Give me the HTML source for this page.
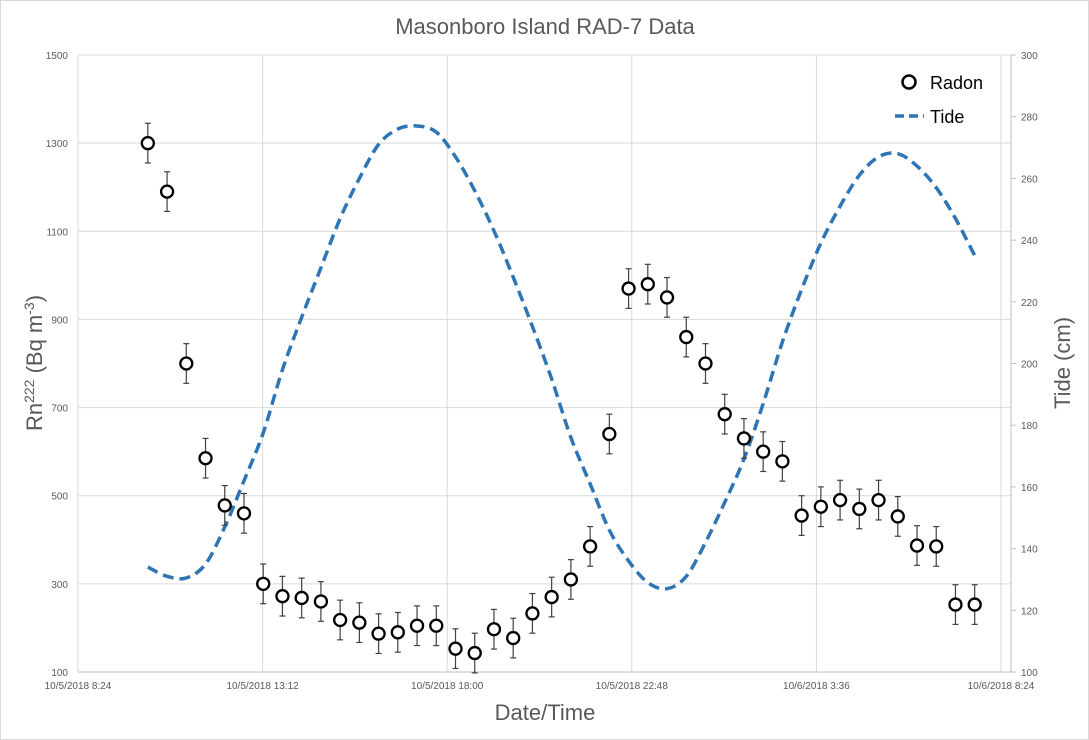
<!DOCTYPE html>
<html><head><meta charset="utf-8"><style>
body{margin:0;background:#fff;}
svg{display:block;font-family:"Liberation Sans",sans-serif;}
</style></head><body>
<svg id="chart" width="1089" height="740" viewBox="0 0 1089 740" xmlns="http://www.w3.org/2000/svg">
<rect x="0.5" y="0.5" width="1088" height="739" fill="#fff" stroke="#d9d9d9"/>
<text x="545" y="34" text-anchor="middle" font-size="22" fill="#595959">Masonboro Island RAD-7 Data</text>
<g id="grid"></g>
<g id="axes"></g>
<g id="tide"></g>
<g id="radon"></g>
<text x="545" y="720" text-anchor="middle" font-size="22" fill="#595959">Date/Time</text>
<text transform="translate(42,363) rotate(-90)" text-anchor="middle" font-size="22" fill="#595959">Rn<tspan font-size="14" dy="-8">222</tspan><tspan dy="8"> (Bq m</tspan><tspan font-size="14" dy="-8">-3</tspan><tspan dy="8">)</tspan></text>
<text transform="translate(1070,363) rotate(-90)" text-anchor="middle" font-size="22" fill="#595959">Tide (cm)</text>
<g>
<circle cx="909" cy="82" r="6.5" fill="none" stroke="#000" stroke-width="2.5"/>
<text x="930" y="89" font-size="18" fill="#000">Radon</text>
<line x1="895" y1="116" x2="924" y2="116" stroke="#2e75b6" stroke-width="3.5" stroke-dasharray="9,5"/>
<text x="930" y="123" font-size="18" fill="#000">Tide</text>
</g>
</svg>
<script>
const xTickLabels = ["10/5/2018 8:24","10/5/2018 13:12","10/5/2018 18:00","10/5/2018 22:48","10/6/2018 3:36","10/6/2018 8:24"];
const xTickHours = [8.4, 13.2, 18.0, 22.8, 27.6, 32.4];
const leftTicks = [100,300,500,700,900,1100,1300,1500];
const rightTicks = [100,120,140,160,180,200,220,240,260,280,300];
const startHour = 10.216;
const stepHour = 0.5;
const radon = [1300,1190,800,585,478,460,300,272,268,260,218,212,187,190,205,205,153,143,197,177,233,270,310,385,640,970,980,950,860,800,685,630,600,578,455,475,490,470,490,453,387,385,253,253];
const radonErr = [45,45,45,45,45,45,45,45,45,45,45,45,45,45,45,45,45,45,45,45,45,45,45,45,45,45,45,45,45,45,45,45,45,45,45,45,45,45,45,45,45,45,45,45];
const tide = [134,131,130.5,135,147,162,177.5,198,215,231,247,260,271,276,277,275,267,256,243,228,212,195,176,161,146,136,129,127,131,142,155,169,187,207,224,239,251,261,267,268,264,257,247,235];

const X0=78, X1=1001, YT=55, YB=672, XR=1011;
const NS="http://www.w3.org/2000/svg";
const x = h => X0 + (h-8.4)/(32.4-8.4)*(X1-X0);
const yL = v => YB - (v-100)/1400*(YB-YT);
const yR = v => YB - (v-100)/200*(YB-YT);
function mk(tag, parent, attrs){const e=document.createElementNS(NS,tag);for(const k in attrs)e.setAttribute(k,attrs[k]);parent.appendChild(e);return e;}
const grid=document.getElementById('grid'), axes=document.getElementById('axes');
leftTicks.forEach((t,i)=>{
  const l=mk('line',grid,{x1:X0,x2:XR,y1:yL(t),y2:yL(t),stroke:'#d9d9d9','stroke-width':1});
  
  
  const tx=mk('text',axes,{x:X0-10,y:yL(t)+4,'text-anchor':'end','font-size':10,fill:'#595959'});
  tx.textContent=t;
  
  
});
rightTicks.forEach(t=>{
  const tk=mk('line',axes,{x1:XR,x2:XR+5,y1:yR(t),y2:yR(t),stroke:'#bfbfbf'});
  
  
  const tx=mk('text',axes,{x:XR+10,y:yR(t)+4,'font-size':10,fill:'#595959'});
  tx.textContent=t;
  
  
});
xTickHours.forEach((h,i)=>{
  if(i>0){const l=mk('line',grid,{x1:x(h),x2:x(h),y1:YT,y2:YB,stroke:'#d9d9d9'});
  
  }
  const tx=mk('text',axes,{x:x(h),y:YB+17,'text-anchor':'middle','font-size':10,fill:'#595959'});
  tx.textContent=xTickLabels[i];
  
  
});
const la=mk('line',axes,{x1:X0,x2:X0,y1:YT,y2:YB,stroke:'#d9d9d9'});


const ra=mk('line',axes,{x1:XR,x2:XR,y1:YT,y2:YB,stroke:'#bfbfbf'});


const ba=mk('line',axes,{x1:X0,x2:XR,y1:YB,y2:YB,stroke:'#bfbfbf'});



const tg=document.getElementById('tide');
let d='';
for(let i=0;i<tide.length;i++){
  const px=x(startHour+i*stepHour), py=yR(tide[i]);
  if(i===0) d+='M'+px+' '+py;
  else { const p0=[x(startHour+(i-1)*stepHour),yR(tide[i-1])];
    const pm1=i>1?[x(startHour+(i-2)*stepHour),yR(tide[i-2])]:p0;
    const p2=i<tide.length-1?[x(startHour+(i+1)*stepHour),yR(tide[i+1])]:[px,py];
    const c1=[p0[0]+(px-pm1[0])/6,p0[1]+(py-pm1[1])/6];
    const c2=[px-(p2[0]-p0[0])/6,py-(p2[1]-p0[1])/6];
    d+=` C${c1[0]} ${c1[1]} ${c2[0]} ${c2[1]} ${px} ${py}`;}
}
const tp=mk('path',tg,{d:d,fill:'none',stroke:'#2e75b6','stroke-width':3.5,'stroke-dasharray':'11,6'});



const rg=document.getElementById('radon');
radon.forEach((v,i)=>{
  const px=x(startHour+i*stepHour), py=yL(v), t=yL(v+radonErr[i]), b=yL(v-radonErr[i]);
  const g=mk('g',rg,{});
  
  
  mk('line',g,{x1:px,x2:px,y1:t,y2:b,stroke:'#404040','stroke-width':1.2});
  mk('line',g,{x1:px-3,x2:px+3,y1:t,y2:t,stroke:'#404040','stroke-width':1.2});
  mk('line',g,{x1:px-3,x2:px+3,y1:b,y2:b,stroke:'#404040','stroke-width':1.2});
  mk('circle',g,{cx:px,cy:py,r:6,fill:'#fff',stroke:'#000','stroke-width':2.3});
});
</script>
</body></html>
